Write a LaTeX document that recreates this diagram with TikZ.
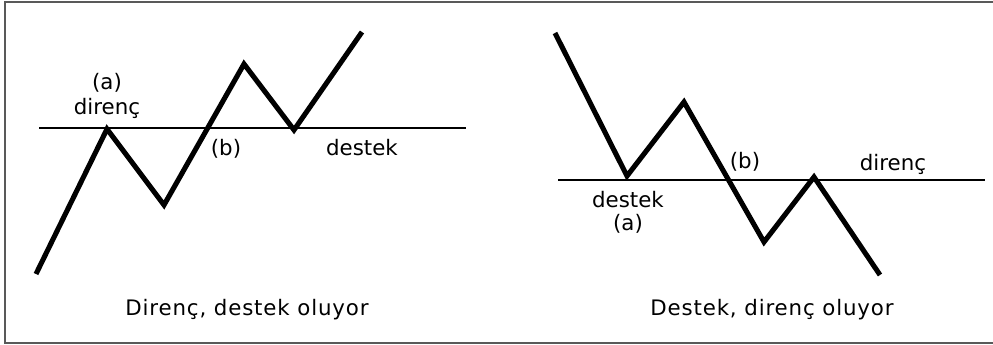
\documentclass[tikz,border=0pt]{standalone}
\usepackage{fontspec}
\setmainfont{DejaVu Sans}
\newfontfamily\widefont[LetterSpace=4]{DejaVu Sans}
\usetikzlibrary{positioning}

\begin{document}
\begin{tikzpicture}[x=0.75pt, y=-0.75pt,
    price/.style={line width=3.8pt, line join=miter, black},
    level/.style={line width=0.8pt, black},
    frame/.style={line width=2pt, black!65},
    lbl/.style={font=\fontsize{16}{19}\selectfont, inner sep=0pt},
    caption/.style={font=\widefont\fontsize{16}{19}\selectfont, inner sep=0pt}]

  \useasboundingbox (0,0) rectangle (993,345);

  % Frame (right side is cut off)
  \draw[frame] (993,2) -- (5,2) -- (5,343) -- (993,343);

  %% ===== LEFT PANEL: resistance becomes support =====
  \coordinate (l0) at (36,274);
  \coordinate (l1) at (107,129);
  \coordinate (l2) at (164,205);
  \coordinate (l3) at (244,64);
  \coordinate (l4) at (294,130);
  \coordinate (l5) at (362,32);

  % Level line
  \coordinate (lA) at (39,128);
  \coordinate (lB) at (466,128);
  \draw[level] (lA) -- (lB);

  % Price path
  \draw[price] (l0) -- (l1) -- (l2) -- (l3) -- (l4) -- (l5);

  % Labels
  \node[lbl] (ldir) at (107,108) {direnç};
  \node[lbl, above=4pt of ldir] (la) {(a)};
  \node[lbl] (lb) at (226,149) {(b)};
  \node[lbl] (ldes) at (362,148) {destek};
  \node[caption] (ltitle) at (247,310) {Direnç, destek oluyor};

  %% ===== RIGHT PANEL: support becomes resistance =====
  \coordinate (r0) at (555,33);
  \coordinate (r1) at (627,176);
  \coordinate (r2) at (684,102);
  \coordinate (r3) at (764,242);
  \coordinate (r4) at (814,177);
  \coordinate (r5) at (880,275);

  % Level line
  \coordinate (rA) at (558,180);
  \coordinate (rB) at (985,180);
  \draw[level] (rA) -- (rB);

  % Price path
  \draw[price] (r0) -- (r1) -- (r2) -- (r3) -- (r4) -- (r5);

  % Labels
  \node[lbl] (rdes) at (628,200) {destek};
  \node[lbl, below=4pt of rdes] (ra) {(a)};
  \node[lbl] (rb) at (745,162) {(b)};
  \node[lbl] (rdir) at (893,164) {direnç};
  \node[caption] (rtitle) at (772,310) {Destek, direnç oluyor};

\end{tikzpicture}
\end{document}
